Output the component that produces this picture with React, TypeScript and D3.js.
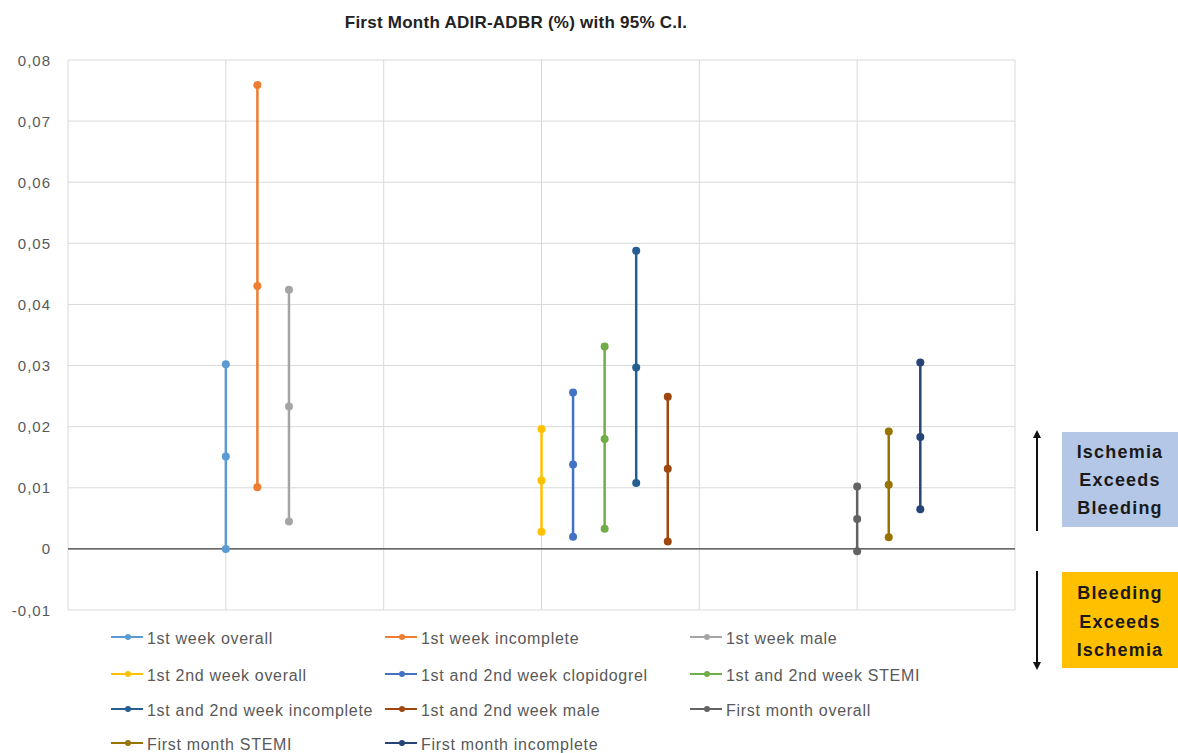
import React from "react";
import * as d3 from "d3";

const W = 1178;
const H = 753;

const seriesNames = [
  "1st week overall",
  "1st week incomplete",
  "1st week male",
  "1st 2nd week overall",
  "1st and 2nd week clopidogrel",
  "1st and 2nd week STEMI",
  "1st and 2nd week incomplete",
  "1st and 2nd week male",
  "First month overall",
  "First month STEMI",
  "First month incomplete",
];
const seriesColors = [
  "#5B9BD5", "#ED7D31", "#A5A5A5", "#FFC000", "#4472C4", "#70AD47",
  "#255E91", "#9E480E", "#636363", "#997300", "#264478",
];
// x positions (scatter x values)
const seriesX = [0.5, 0.6, 0.7, 1.5, 1.6, 1.7, 1.8, 1.9, 2.5, 2.6, 2.7];
const lowerCI = [0.0, 0.0101, 0.0045, 0.0028, 0.002, 0.0033, 0.0108, 0.0012, -0.0004, 0.0019, 0.0065];
const estimate = [0.0151, 0.043, 0.0233, 0.0112, 0.0138, 0.018, 0.0297, 0.0131, 0.0049, 0.0105, 0.0183];
const upperCI = [0.0302, 0.0759, 0.0424, 0.0196, 0.0256, 0.0331, 0.0488, 0.0249, 0.0102, 0.0192, 0.0305];

const yTicks = [-0.01, 0, 0.01, 0.02, 0.03, 0.04, 0.05, 0.06, 0.07, 0.08];
const xGrid = [0, 0.5, 1, 1.5, 2, 2.5, 3];

const title = "First Month ADIR-ADBR (%) with 95% C.I.";
const upperBoxLines = ["Ischemia", "Exceeds", "Bleeding"];
const lowerBoxLines = ["Bleeding", "Exceeds", "Ischemia"];

const FONT = "'Liberation Sans', Arial, sans-serif";

export default function App() {
  const x = d3.scaleLinear().domain([0, 3]).range([68, 1015]);
  const y = d3.scaleLinear().domain([-0.01, 0.08]).range([610, 60]);
  const fmt = (v: number) => (v === 0 ? "0" : v.toFixed(2).replace(".", ","));

  const legendCols = [111, 385, 690];
  const legendRows = [637, 674, 709, 743];

  return (
    <svg
      width={W}
      height={H}
      style={{ position: "absolute", left: 0, top: 0, background: "#fff" }}
      fontFamily={FONT}
    >
      <defs>
        <marker id="ah" viewBox="0 0 10 10" refX="5" refY="5" markerWidth="4" markerHeight="4" orient="auto-start-reverse">
          <path d="M0,0 L10,5 L0,10 z" fill="#111" />
        </marker>
      </defs>
      <text x={516} y={28} textAnchor="middle" fontSize={17} fontWeight="bold" letterSpacing={0.25} fill="#222">
        {title}
      </text>

      {/* horizontal grid */}
      {yTicks.map((t) => (
        <line key={"h" + t} x1={x(0)} x2={x(3)} y1={y(t)} y2={y(t)} stroke="#d9d9d9" strokeWidth={1} />
      ))}
      {/* vertical grid */}
      {xGrid.map((g) => (
        <line key={"v" + g} x1={x(g)} x2={x(g)} y1={y(0.08)} y2={y(-0.01)} stroke="#d9d9d9" strokeWidth={1} />
      ))}
      {/* zero line */}
      <line x1={x(0)} x2={x(3)} y1={y(0)} y2={y(0)} stroke="#404040" strokeWidth={1.3} />

      {/* y tick labels */}
      {yTicks.map((t) => (
        <text key={"t" + t} x={51} y={y(t) + 5.5} textAnchor="end" fontSize={15} letterSpacing={1} fill="#595959">
          {fmt(t)}
        </text>
      ))}

      {/* series */}
      {seriesNames.map((n, i) => {
        const cx = x(seriesX[i]);
        const vals = [lowerCI[i], estimate[i], upperCI[i]];
        return (
          <g key={n}>
            <line x1={cx} x2={cx} y1={y(lowerCI[i])} y2={y(upperCI[i])} stroke={seriesColors[i]} strokeWidth={2.5} />
            {vals.map((v, j) => (
              <circle key={j} cx={cx} cy={y(v)} r={4} fill={seriesColors[i]} />
            ))}
          </g>
        );
      })}

      {/* legend */}
      {seriesNames.map((n, i) => {
        const lx = legendCols[i % 3];
        const ly = legendRows[Math.floor(i / 3)];
        return (
          <g key={"l" + n}>
            <line x1={lx} x2={lx + 32} y1={ly} y2={ly} stroke={seriesColors[i]} strokeWidth={2} />
            <circle cx={lx + 17} cy={ly} r={3} fill={seriesColors[i]} />
            <text x={lx + 36} y={ly + 7} fontSize={16} letterSpacing={0.7} fill="#595959">
              {n}
            </text>
          </g>
        );
      })}

      {/* annotation arrows */}
      <line x1={1037} x2={1037} y1={531} y2={434} stroke="#111" strokeWidth={2} markerEnd="url(#ah)" />
      <line x1={1037} x2={1037} y1={571} y2={666} stroke="#111" strokeWidth={2} markerEnd="url(#ah)" />

      <rect x={1062} y={432} width={116} height={95} fill="#B4C7E7" />
      {upperBoxLines.map((s, i) => (
        <text key={"u" + i} x={1120} y={458 + i * 28} textAnchor="middle" fontSize={18} letterSpacing={1.2} fontWeight="bold" fill="#1a1a1a">
          {s}
        </text>
      ))}
      <rect x={1062} y={572} width={116} height={96} fill="#FFC000" />
      {lowerBoxLines.map((s, i) => (
        <text key={"d" + i} x={1120} y={599 + i * 28.5} textAnchor="middle" fontSize={18} letterSpacing={1.2} fontWeight="bold" fill="#1a1a1a">
          {s}
        </text>
      ))}
    </svg>
  );
}
